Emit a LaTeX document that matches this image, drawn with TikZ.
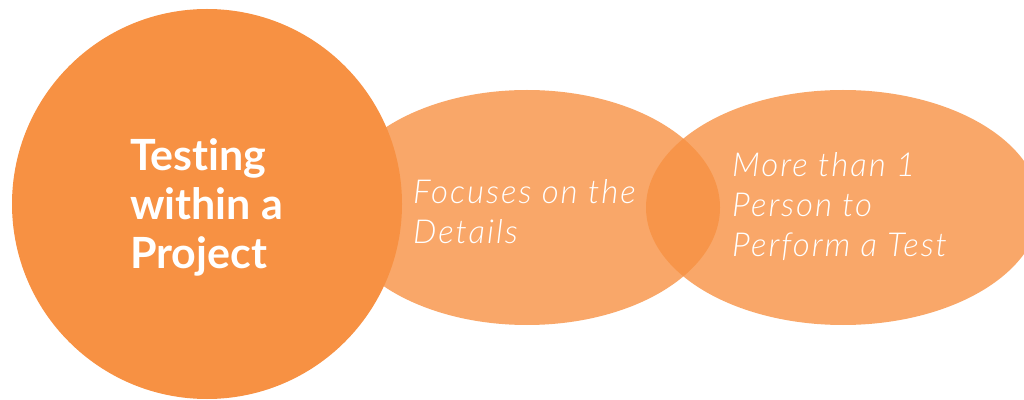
\documentclass[tikz,border=0pt]{standalone}
\usepackage{fontspec}
\setmainfont{Lato}[RawFeature=-liga]
\newfontfamily\bodyfont{Lato Light}[LetterSpace=6,RawFeature=-liga]
\begin{document}
\begin{tikzpicture}[x=1pt,y=1pt,
  bubble/.style={fill=orangebase, fill opacity=0.8},
  titletext/.style={text=white, anchor=north west, inner sep=0pt, align=left, font=\fontsize{43}{49}\selectfont\bfseries},
  bodytext/.style={text=white, anchor=north west, inner sep=0pt, align=left, font=\bodyfont\fontsize{33}{40}\selectfont\itshape}]
\definecolor{orangebase}{HTML}{F79143}
\useasboundingbox (0,0) rectangle (1024,399);
\clip (0,0) rectangle (1024,399);
\fill[bubble] (527,191.5) ellipse [x radius=193, y radius=117.5];
\fill[bubble] (843,191.5) ellipse [x radius=197, y radius=117.5];
\fill[orangebase] (207,195) circle [radius=195];
\node[titletext] (title) at (130,261) {Testing\\within a\\Project};
\node[bodytext] (details) at (413,219.5) {Focuses on the\\Details};
\node[bodytext] (person) at (732,247) {More than 1\\Person to\\Perform a Test};
\end{tikzpicture}
\end{document}
